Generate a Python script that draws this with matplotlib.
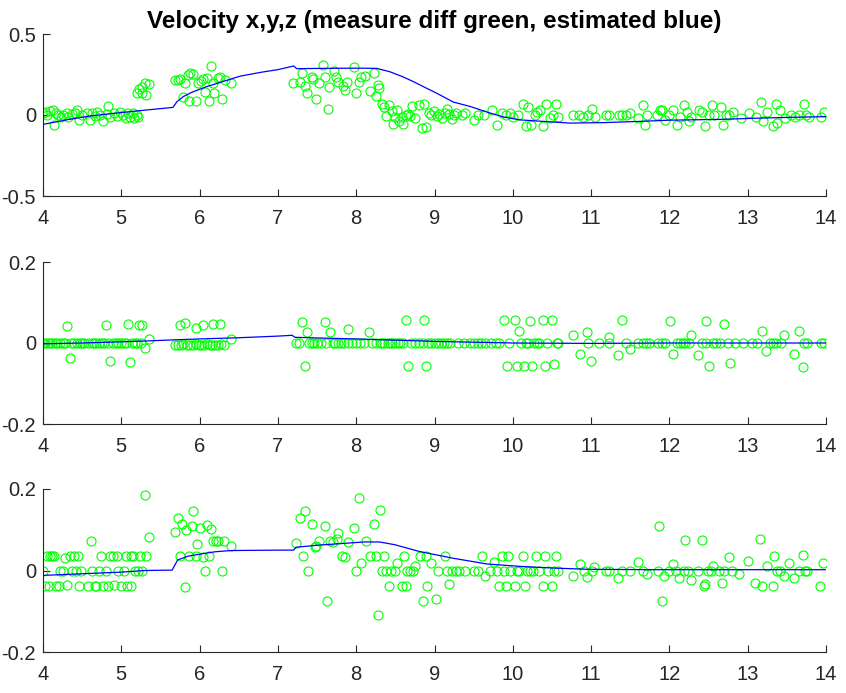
import matplotlib
matplotlib.use("Agg")
import matplotlib.pyplot as plt

plt.rcParams["font.family"] = ["Liberation Sans", "DejaVu Sans"]

# ---------------------------------------------------------------------------
# Data, (time, value) pairs
# ---------------------------------------------------------------------------

# panel 1: velocity x, measured (green circles)
meas_x = [
    (4.0, 0.010), (4.026, 0.021), (4.055, 0.0), (4.089, 0.025), (4.123, 0.031),
    (4.14, -0.062), (4.166, 0.010), (4.196, 0.0), (4.226, -0.010), (4.26, 0.0),
    (4.302, 0.014), (4.323, -0.010), (4.366, 0.004), (4.409, 0.014), (4.43, 0.031),
    (4.464, -0.031), (4.494, 0.0), (4.558, 0.010), (4.6, -0.031), (4.622, 0.014),
    (4.664, -0.006), (4.694, 0.021), (4.728, 0.0), (4.77, -0.035), (4.813, 0.004),
    (4.834, 0.056), (4.856, -0.010), (4.907, 0.010), (4.949, -0.006), (4.983, 0.021),
    (5.026, 0.0), (5.06, -0.021), (5.09, 0.010), (5.111, -0.010), (5.145, 0.010),
    (5.166, -0.016), (5.196, 0.0), (5.209, -0.010),
    (5.205, 0.134), (5.23, 0.158), (5.267, 0.137), (5.32, 0.123), (5.3, 0.2),
    (5.35, 0.19), (5.26, 0.17),
    (5.686, 0.216), (5.72, 0.216), (5.75, 0.22), (5.784, 0.113), (5.813, 0.2),
    (5.856, 0.247), (5.877, 0.257), (5.87, 0.086), (5.911, 0.253), (5.954, 0.086),
    (5.975, 0.195), (6.014, 0.21), (6.048, 0.22), (6.069, 0.144), (6.09, 0.226),
    (6.12, 0.088), (6.146, 0.3), (6.176, 0.195), (6.19, 0.134), (6.23, 0.226),
    (6.26, 0.232), (6.282, 0.097), (6.325, 0.216), (6.397, 0.195),
    (7.197, 0.2), (7.28, 0.206), (7.31, 0.261), (7.35, 0.179), (7.375, 0.134),
    (7.43, 0.236), (7.45, 0.22), (7.49, 0.097), (7.53, 0.195), (7.57, 0.309),
    (7.6, 0.232), (7.636, 0.035), (7.657, 0.175), (7.716, 0.273), (7.742, 0.236),
    (7.77, 0.206), (7.827, 0.179), (7.857, 0.154), (7.886, 0.206), (7.972, 0.294),
    (7.997, 0.138), (8.04, 0.206), (8.06, 0.232), (8.11, 0.24), (8.176, 0.15),
    (8.227, 0.261), (8.25, 0.118), (8.283, 0.185), (8.295, 0.164),
    (8.326, 0.068), (8.355, 0.048), (8.38, -0.006), (8.42, 0.062), (8.454, 0.027),
    (8.474, -0.055), (8.497, -0.010), (8.52, 0.031), (8.55, -0.035), (8.58, -0.010),
    (8.601, -0.055), (8.635, 0.0), (8.66, 0.006), (8.69, -0.006), (8.717, 0.056),
    (8.745, -0.020), (8.8, 0.062), (8.84, -0.082), (8.86, 0.068), (8.89, -0.072),
    (8.93, 0.010), (8.96, 0.0), (8.99, 0.027), (9.03, -0.006), (9.06, 0.006),
    (9.1, -0.020), (9.13, 0.014), (9.156, 0.040), (9.185, 0.004), (9.22, -0.025),
    (9.25, 0.0), (9.28, 0.014), (9.35, 0.0), (9.39, 0.014),
    (9.5, -0.03), (9.56, 0.0), (9.63, 0.0), (9.74, 0.03), (9.8, -0.06),
    (9.86, 0.01), (9.91, 0.0), (9.96, 0.01), (10.0, -0.01), (10.07, 0.0),
    (10.13, 0.07), (10.17, -0.07), (10.2, 0.05), (10.23, -0.06), (10.28, 0.0),
    (10.31, 0.02), (10.35, 0.03), (10.39, -0.07), (10.42, 0.07), (10.48, -0.02),
    (10.51, 0.0), (10.55, 0.07), (10.58, -0.01), (10.77, 0.0), (10.85, 0.0),
    (10.9, -0.01), (10.96, 0.0), (11.01, 0.04), (11.05, -0.01), (11.19, 0.0),
    (11.23, 0.0), (11.35, 0.0), (11.39, 0.0), (11.44, 0.0), (11.5, 0.01),
    (11.6, -0.02), (11.66, 0.06), (11.69, -0.06), (11.71, 0.0), (11.84, 0.0),
    (11.88, 0.03), (11.91, 0.03), (11.95, -0.03), (12.0, 0.0), (12.05, 0.03),
    (12.1, -0.06), (12.14, -0.01), (12.19, 0.06), (12.22, 0.02), (12.25, -0.04),
    (12.28, -0.01), (12.38, 0.03), (12.41, 0.02), (12.46, -0.07), (12.51, 0.0),
    (12.55, 0.06), (12.57, 0.0), (12.66, 0.05), (12.69, -0.06), (12.72, 0.0),
    (12.76, 0.0), (12.81, 0.02), (12.91, -0.02), (13.02, 0.01), (13.11, -0.01),
    (13.17, 0.08), (13.19, -0.04), (13.25, 0.02), (13.32, -0.07), (13.36, 0.07),
    (13.38, -0.05), (13.41, 0.03), (13.47, -0.02), (13.55, 0.0), (13.6, -0.01),
    (13.66, 0.0), (13.72, 0.07), (13.75, 0.0), (13.78, -0.01), (13.94, -0.01),
    (13.98, 0.02),
]
# panel 1: velocity x, estimated (blue line)
est_x = [
    (4.0, -0.058), (4.3, -0.03), (4.6, -0.006), (5.0, 0.015), (5.24, 0.027),
    (5.66, 0.047), (5.71, 0.082), (5.79, 0.113), (5.9, 0.14), (6.09, 0.175),
    (6.3, 0.207), (6.52, 0.24), (6.8, 0.265), (7.0, 0.28), (7.18, 0.3),
    (7.2, 0.303), (7.24, 0.286), (7.6, 0.288), (8.0, 0.289), (8.26, 0.288),
    (8.43, 0.267), (8.6, 0.235), (8.73, 0.206), (8.9, 0.165), (9.03, 0.134),
    (9.24, 0.08), (9.46, 0.052), (9.67, 0.018), (9.88, -0.012), (10.09, -0.03),
    (10.31, -0.037), (10.73, -0.05), (11.16, -0.047), (11.59, -0.04),
    (12.0, -0.032), (12.66, -0.027), (13.09, -0.02), (13.5, -0.015), (14.0, -0.01),
]

# panel 2: velocity y
meas_y = [
    (4.0, 0.0), (4.03, 0.001), (4.06, -0.001), (4.09, 0.0), (4.12, 0.001),
    (4.15, 0.0), (4.18, -0.001), (4.22, 0.0), (4.25, 0.001), (4.28, 0.0),
    (4.36, 0.0), (4.4, 0.001), (4.43, 0.0), (4.47, -0.001), (4.5, 0.0),
    (4.53, 0.001), (4.58, 0.0), (4.62, 0.0), (4.65, 0.001), (4.68, 0.0),
    (4.72, -0.001), (4.75, 0.0), (4.78, 0.001), (4.83, 0.0), (4.9, 0.0),
    (4.93, 0.001), (4.96, 0.0), (5.0, 0.0), (5.03, 0.001), (5.06, 0.0),
    (5.14, 0.0), (5.17, -0.001), (5.2, 0.0), (5.25, 0.0),
    (4.31, 0.043), (4.34, -0.036), (4.8, 0.045), (4.86, -0.044), (5.08, 0.046),
    (5.11, -0.046), (5.22, 0.044), (5.27, 0.044), (5.3, -0.012), (5.36, 0.009),
    (5.68, -0.004), (5.72, -0.005), (5.76, -0.004), (5.79, -0.003), (5.84, -0.004),
    (5.88, -0.005), (5.92, -0.004), (5.95, -0.003), (5.99, -0.004), (6.02, -0.005),
    (6.06, -0.004), (6.1, -0.003), (6.13, -0.004), (6.16, -0.004), (6.2, -0.005),
    (6.24, -0.004), (6.27, -0.003), (6.31, -0.004),
    (5.75, 0.044), (5.81, 0.05), (5.96, 0.038), (6.04, 0.044), (6.17, 0.046),
    (6.26, 0.046), (6.4, 0.01),
    (7.23, 0.0), (7.27, 0.0), (7.4, 0.0), (7.43, 0.0), (7.46, 0.0), (7.5, 0.0),
    (7.55, 0.0), (7.62, 0.0), (7.7, 0.0), (7.73, 0.0), (7.77, 0.0), (7.8, 0.0),
    (7.85, 0.0), (7.9, 0.0), (7.95, 0.0), (8.0, 0.0), (8.05, 0.0), (8.1, 0.0),
    (8.2, 0.0), (8.25, 0.0), (8.3, 0.0), (8.33, 0.0), (8.36, 0.0), (8.4, 0.0),
    (8.43, 0.0), (8.46, 0.0), (8.5, 0.0), (8.53, 0.0), (8.56, 0.0), (8.6, 0.0),
    (8.7, 0.0), (8.75, 0.0), (8.8, 0.0), (8.85, 0.0), (8.92, 0.0), (8.96, 0.0),
    (9.0, 0.0), (9.04, 0.0), (9.08, 0.0), (9.12, 0.0), (9.16, 0.0), (9.2, 0.0),
    (9.3, 0.0), (9.38, 0.0), (9.45, 0.0), (9.5, 0.0), (9.55, 0.0), (9.6, 0.0),
    (9.65, 0.0), (9.72, 0.0), (9.78, 0.0), (9.82, 0.0), (9.95, 0.0), (10.1, 0.0),
    (10.17, 0.0), (10.2, 0.0), (10.27, 0.0), (10.31, 0.0), (10.34, 0.0),
    (10.44, 0.0), (10.56, 0.0), (10.58, 0.0), (10.96, 0.0), (11.1, 0.0),
    (11.23, 0.0), (11.45, 0.0), (11.6, 0.0), (11.66, 0.0), (11.7, 0.0),
    (11.74, 0.0), (11.85, 0.0), (11.9, 0.0), (11.95, 0.0), (12.1, 0.0),
    (12.14, 0.0), (12.18, 0.0), (12.2, 0.0), (12.25, 0.0), (12.42, 0.0),
    (12.47, 0.0), (12.56, 0.0), (12.6, 0.0), (12.65, 0.0), (12.75, 0.0),
    (12.84, 0.0), (12.94, 0.0), (13.05, 0.0), (13.12, 0.0), (13.28, 0.0),
    (13.32, 0.0), (13.36, 0.0), (13.42, 0.0), (13.72, 0.0), (13.76, 0.0),
    (13.93, 0.0), (13.97, 0.0),
    (7.31, 0.053), (7.37, 0.028), (7.34, -0.056), (7.6, 0.051), (7.66, 0.026),
    (7.89, 0.034), (8.16, 0.028), (8.63, 0.057), (8.66, -0.058), (8.86, 0.058),
    (8.89, -0.057), (9.89, 0.056), (9.92, -0.056), (10.03, 0.056), (10.05, -0.058),
    (10.08, 0.029), (10.14, -0.057), (10.22, 0.054), (10.25, -0.058), (10.38, 0.057),
    (10.41, -0.058), (10.5, 0.056), (10.53, -0.052), (10.77, 0.019), (10.86, -0.026),
    (10.95, 0.027), (11.0, -0.045), (11.23, 0.014), (11.34, -0.03), (11.39, 0.056),
    (11.5, -0.015), (12.01, 0.055), (12.04, -0.027), (12.28, 0.019), (12.37, -0.03),
    (12.47, 0.054), (12.5, -0.057), (12.7, 0.047), (12.77, -0.049), (13.18, 0.03),
    (13.24, -0.02), (13.46, 0.019), (13.59, -0.028), (13.65, 0.029), (13.7, -0.06),
]
est_y = [
    (4.0, -0.002), (4.5, 0.0), (5.0, 0.003), (5.32, 0.005), (5.7, 0.008),
    (6.0, 0.01), (6.5, 0.013), (7.0, 0.017), (7.18, 0.019), (7.22, 0.014),
    (7.6, 0.012), (8.0, 0.01), (8.5, 0.007), (9.0, 0.004), (9.5, 0.002),
    (10.0, 0.0), (11.0, -0.001), (12.0, 0.0), (13.0, 0.0), (14.0, 0.0),
]

# panel 3: velocity z
meas_z = [
    (4.05, 0.036), (4.09, 0.036), (4.12, 0.036), (4.14, 0.036), (4.28, 0.03),
    (4.34, 0.036), (4.39, 0.036), (4.45, 0.036), (4.74, 0.036), (4.86, 0.036),
    (4.89, 0.036), (4.95, 0.036), (5.06, 0.036), (5.12, 0.036), (5.15, 0.036),
    (5.24, 0.036), (5.32, 0.036),
    (4.0, 0.0), (4.22, 0.0), (4.26, 0.0), (4.37, 0.0), (4.42, 0.0), (4.49, 0.0),
    (4.62, 0.0), (4.72, 0.0), (4.8, 0.0), (4.96, 0.0), (5.03, 0.0), (5.18, 0.0),
    (5.21, 0.0), (5.27, 0.0),
    (4.02, -0.038), (4.08, -0.038), (4.17, -0.038), (4.2, -0.038), (4.31, -0.036),
    (4.46, -0.038), (4.58, -0.038), (4.66, -0.038), (4.68, -0.038), (4.76, -0.038),
    (4.83, -0.038), (4.91, -0.036), (4.99, -0.038), (5.07, -0.038), (5.13, -0.038),
    (4.61, 0.073), (5.3, 0.186), (5.35, 0.083),
    (5.69, 0.094), (5.73, 0.13), (5.77, 0.114), (5.81, -0.04), (5.83, 0.1),
    (5.92, 0.146), (5.9, 0.11), (5.75, 0.036), (5.87, 0.036), (5.95, 0.036),
    (5.97, 0.064), (6.0, 0.105), (6.04, 0.032), (6.07, 0.0), (6.09, 0.111),
    (6.12, 0.036), (6.15, 0.102), (6.17, 0.073), (6.21, 0.073), (6.24, 0.073),
    (6.28, 0.0), (6.31, 0.073), (6.4, 0.059),
    (7.23, 0.067), (7.28, 0.13), (7.34, 0.145), (7.32, 0.036), (7.38, 0.0),
    (7.43, 0.114), (7.47, 0.057), (7.49, 0.06), (7.53, 0.073), (7.6, 0.108),
    (7.63, -0.074), (7.66, 0.073), (7.71, 0.07), (7.75, 0.078), (7.77, 0.092),
    (7.82, 0.036), (7.86, 0.032), (7.89, 0.07), (7.97, 0.105), (8.0, 0.0),
    (8.03, 0.178), (8.06, 0.018), (8.12, 0.073), (8.17, 0.036), (8.23, 0.114),
    (8.25, 0.036), (8.28, -0.108), (8.3, 0.149), (8.35, 0.036), (8.33, 0.0),
    (8.38, 0.0), (8.42, -0.038), (8.45, 0.0), (8.49, 0.0), (8.52, 0.018),
    (8.58, -0.038), (8.61, 0.036), (8.63, -0.038), (8.65, 0.0), (8.69, 0.0),
    (8.73, 0.0), (8.75, 0.011), (8.82, 0.036), (8.85, -0.074), (8.89, 0.036),
    (8.9, -0.038),
    (8.96, 0.018), (9.02, -0.07), (9.05, 0.0), (9.13, 0.036), (9.16, 0.0),
    (9.19, -0.033), (9.22, 0.0), (9.28, 0.0), (9.31, 0.0), (9.39, 0.0),
    (9.51, 0.0), (9.56, 0.0), (9.61, 0.036), (9.64, -0.013), (9.71, 0.0),
    (9.76, 0.02), (9.8, 0.0), (9.83, -0.038), (9.86, 0.036), (9.89, 0.0),
    (9.91, -0.038), (9.94, 0.036), (9.97, 0.0), (10.03, -0.038), (10.05, 0.0),
    (10.08, 0.0), (10.13, 0.036), (10.16, -0.038), (10.18, 0.0), (10.22, 0.0),
    (10.26, 0.0), (10.29, 0.036), (10.33, 0.0), (10.38, -0.038), (10.41, 0.036),
    (10.45, 0.0), (10.5, -0.038), (10.53, 0.0), (10.55, 0.036), (10.58, 0.0),
    (10.77, -0.013), (10.86, 0.016), (10.91, 0.0), (10.95, -0.017), (11.01, 0.0),
    (11.04, 0.008), (11.19, 0.0), (11.23, 0.0), (11.34, -0.019), (11.39, 0.0),
    (11.5, 0.0), (11.6, 0.02), (11.66, 0.0), (11.72, -0.008), (11.85, 0.0),
    (11.87, 0.11), (11.9, -0.075), (11.93, -0.013), (12.0, 0.0), (12.04, 0.016),
    (12.09, 0.0), (12.12, -0.019), (12.19, 0.0), (12.2, 0.074), (12.24, 0.0),
    (12.28, -0.023), (12.37, 0.0), (12.42, 0.075), (12.44, -0.038), (12.46, -0.034),
    (12.49, 0.0), (12.53, 0.0), (12.56, 0.012), (12.63, 0.0), (12.67, -0.031),
    (12.7, 0.0), (12.76, 0.032), (12.8, 0.0), (12.89, -0.009), (13.01, 0.024),
    (13.09, -0.031), (13.16, 0.077), (13.18, -0.038), (13.25, 0.012), (13.32, -0.038),
    (13.34, 0.036), (13.37, 0.0), (13.41, 0.0), (13.46, -0.013), (13.53, 0.018),
    (13.59, -0.019), (13.65, 0.0), (13.7, 0.038), (13.73, 0.0), (13.76, 0.0),
    (13.92, -0.037), (13.96, 0.018),
]
est_z = [
    (4.0, -0.012), (4.5, -0.008), (5.0, -0.004), (5.3, 0.0), (5.65, 0.001),
    (5.68, 0.012), (5.72, 0.026), (5.85, 0.035), (6.0, 0.04), (6.2, 0.046),
    (6.4, 0.049), (7.0, 0.05), (7.2, 0.05), (7.23, 0.057), (7.5, 0.062),
    (7.8, 0.066), (8.1, 0.07), (8.3, 0.07), (8.5, 0.063), (8.8, 0.047),
    (9.24, 0.03), (9.67, 0.016), (10.1, 0.01), (10.52, 0.006), (10.95, 0.003),
    (11.8, 0.002), (13.0, 0.002), (14.0, 0.002),
]

x_ticks = [4, 5, 6, 7, 8, 9, 10, 11, 12, 13, 14]
panels = [
    (meas_x, est_x, (-0.5, 0.5), [-0.5, 0, 0.5], ["-0.5", "0", "0.5"]),
    (meas_y, est_y, (-0.2, 0.2), [-0.2, 0, 0.2], ["-0.2", "0", "0.2"]),
    (meas_z, est_z, (-0.2, 0.2), [-0.2, 0, 0.2], ["-0.2", "0", "0.2"]),
]

# ---------------------------------------------------------------------------
# Figure
# ---------------------------------------------------------------------------

W, H = 846, 693
fig = plt.figure(figsize=(W / 100, H / 100), dpi=100)
# axes boxes in pixels: (left, top, right, bottom)
boxes = [(43, 34, 826, 196), (43, 262, 826, 424), (43, 489, 826, 652)]
axis_col = "#262626"

for i, (meas, est, ylim, yt, ytl) in enumerate(panels):
    l, t, r, b = boxes[i]
    ax = fig.add_axes([l / W, 1 - b / H, (r - l) / W, (b - t) / H])
    mt, mv = zip(*meas)
    et, ev = zip(*est)
    ax.plot(mt, mv, "o", mfc="none", mec=(0, 1, 0), ms=6.5, mew=0.8, zorder=2)
    ax.plot(et, ev, "-", color=(0, 0, 1), lw=0.9, zorder=3)
    ax.set_xlim(4, 14)
    ax.set_ylim(*ylim)
    ax.set_xticks(x_ticks)
    ax.set_xticklabels([str(v) for v in x_ticks])
    ax.set_yticks(yt)
    ax.set_yticklabels(ytl)
    for s in ("top", "right"):
        ax.spines[s].set_visible(False)
    for s in ("left", "bottom"):
        ax.spines[s].set_color(axis_col)
        ax.spines[s].set_linewidth(0.8)
    ax.tick_params(direction="in", length=5, width=0.8, color=axis_col,
                   labelcolor=axis_col, labelsize=14.5)
    ax.tick_params(axis="x", pad=9)
    ax.tick_params(axis="y", pad=5)
    if i == 0:
        ax.set_title("Velocity x,y,z (measure diff green, estimated blue)",
                     fontsize=17.5, fontweight="bold", pad=4)

fig.savefig("out.png", dpi=100)
